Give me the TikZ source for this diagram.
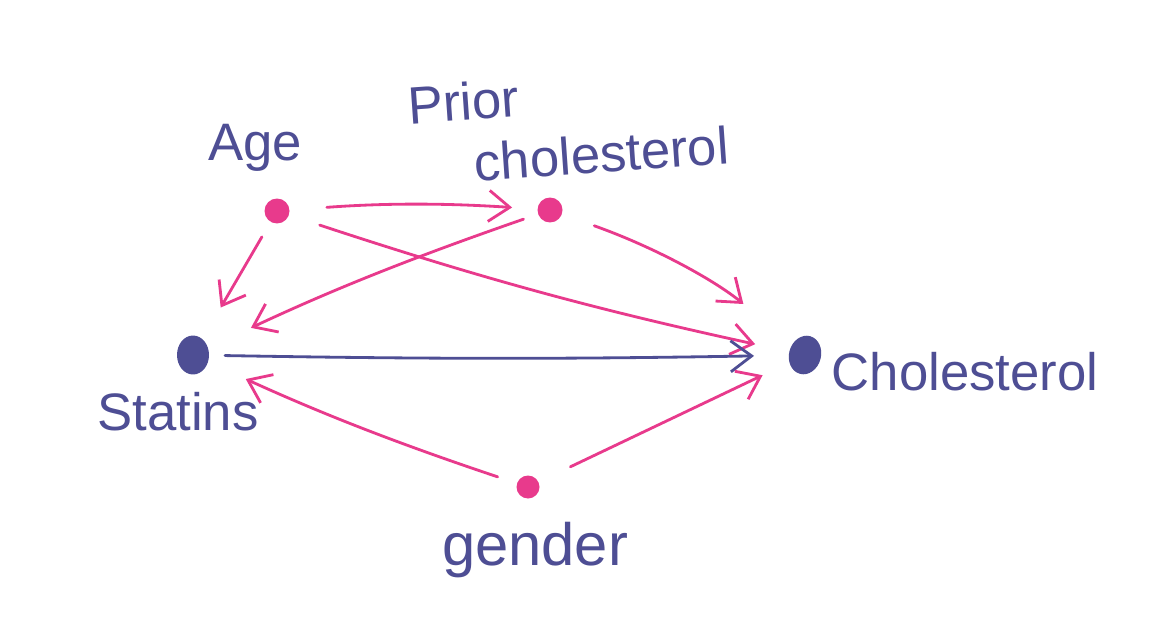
\documentclass[tikz,border=0pt]{standalone}
\usepackage{fontspec}
\setmainfont{Liberation Sans}
\usetikzlibrary{arrows.meta,shapes.geometric}
\definecolor{pinkc}{HTML}{E83A8C}
\definecolor{navyc}{HTML}{4E4E94}
\begin{document}
\begin{tikzpicture}[x=0.02cm,y=-0.02cm,
  lbl/.style={text=navyc, font=\fontsize{30}{32}\selectfont, inner sep=0pt},
  pdot/.style={circle, fill=pinkc, minimum size=0.5cm, inner sep=0pt},
  ndot/.style={ellipse, fill=navyc, minimum width=0.64cm, minimum height=0.78cm, inner sep=0pt},
  pinkarrow/.style={draw=pinkc, line width=1.6pt, line cap=round,
    -{Straight Barb[length=0.42cm,width=0.62cm,line width=1.6pt]}},
  navyarrow/.style={pinkarrow, draw=navyc}]
\useasboundingbox[fill=white] (0,0) rectangle (1176,642);
% dots
\node[pdot] (age) at (277,211) {};
\node[pdot] (prior) at (550,210) {};
\node[pdot, minimum size=0.46cm] (gender) at (528,487) {};
\node[ndot] (statins) at (193,355) {};
\node[ndot, rotate=-15] (chol) at (805,355) {};
% labels
\node[lbl] (agel) at (255,148) {Age};
\node[lbl, align=left, anchor=north west, rotate=4] (priorl) at (406,86) {Prior\\[3pt]\hspace*{1.25cm}cholesterol};
\node[lbl] (statinsl) at (178,412) {Statins};
\node[lbl] (choll) at (965,372) {Cholesterol};
\node[lbl, font=\fontsize{34}{36}\selectfont] (genderl) at (535,550) {gender};
% connectors
\draw[pinkarrow, shorten <=1.0cm, shorten >=0.76cm] (age.center) to[bend left=4] (prior.center);
\draw[pinkarrow, shorten <=0.6cm, shorten >=1.1cm] (age.center) to (statins.center);
\draw[pinkarrow, shorten <=0.9cm, shorten >=1.02cm] (age.center) to[bend right=3] (chol.center);
\draw[pinkarrow, shorten <=0.56cm, shorten >=1.28cm] (prior.center) to[bend right=3] (statins.center);
\draw[pinkarrow, shorten <=0.94cm, shorten >=1.6cm] (prior.center) to[bend left=10] (chol.center);
\draw[navyarrow, shorten <=0.64cm, shorten >=1.02cm] (statins.center) to[bend right=1] (chol.center);
\draw[pinkarrow, shorten <=0.64cm, shorten >=1.16cm] (gender.center) to[bend left=3] (statins.center);
\draw[pinkarrow, shorten <=0.94cm, shorten >=0.94cm] (gender.center) to (chol.center);
\end{tikzpicture}
\end{document}
